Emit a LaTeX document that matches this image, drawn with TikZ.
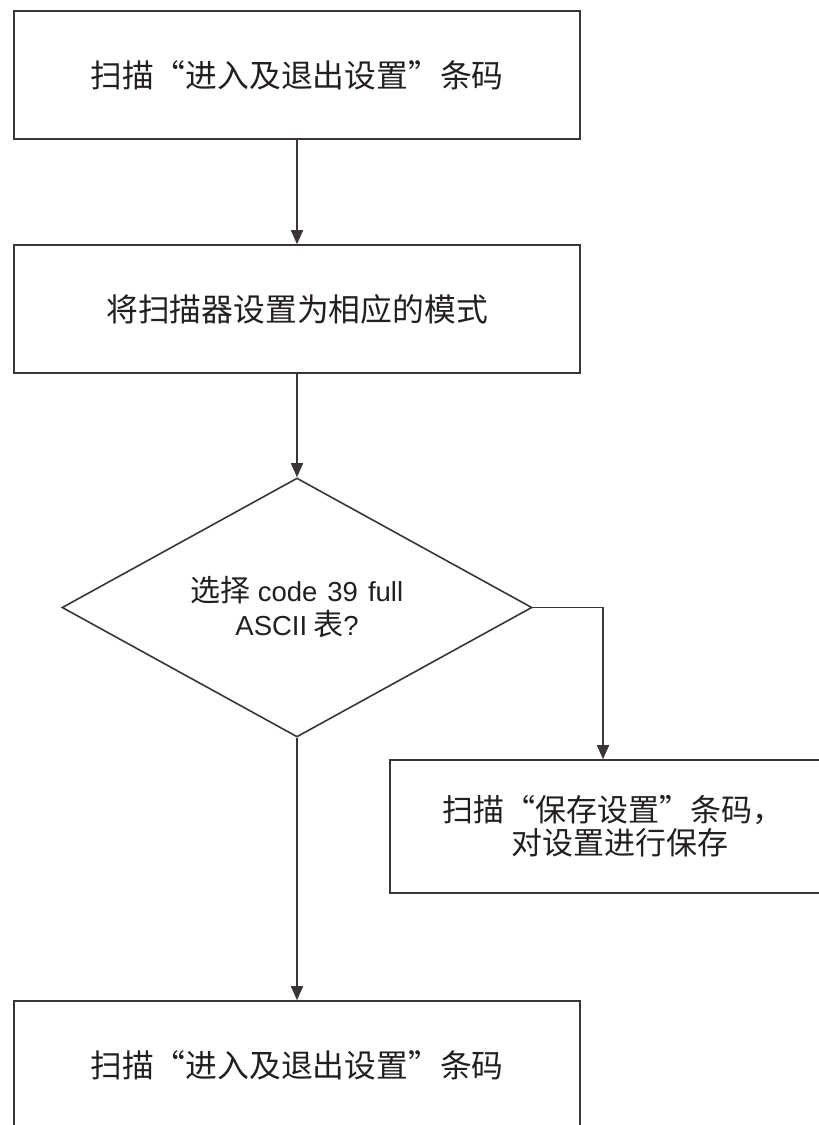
\documentclass[tikz,border=0pt]{standalone}
\usepackage{fontspec}
\setmainfont{Liberation Sans}
\newfontfamily\cjk{Noto Sans CJK SC}
\usetikzlibrary{arrows.meta,shapes.geometric}
\definecolor{linegray}{HTML}{3B3535}
\definecolor{textdark}{HTML}{231F20}

\begin{document}
\begin{tikzpicture}[x=1pt,y=-1pt,
  box/.style={draw=linegray, line width=1.6pt, minimum width=566pt,
    minimum height=128pt, inner sep=0pt, align=center, text=textdark,
    font=\cjk\fontsize{31.8}{34}\selectfont},
  decision/.style={shape=diamond, draw=linegray, line width=1.6pt,
    minimum width=470pt, minimum height=259pt, inner sep=0pt},
  decisiontext/.style={inner sep=0pt, align=center, text=textdark,
    font=\fontsize{27.5}{34}\selectfont},
  link/.style={draw=linegray, line width=1.6pt,
    -{Triangle[length=14pt,width=12pt]}},
]
\useasboundingbox (0,0) rectangle (819,1125);
\clip (0,0) rectangle (819,1125);

\node[box] (enter1) at (297,75) {扫描“进入及退出设置”条码};
\node[box] (mode) at (297,309) {将扫描器设置为相应的模式};
\node[decision] (ask) at (297,607.5) {};
\node[decisiontext] (asktext) at (ask.center)
  {{\cjk\fontsize{30}{34}\selectfont 选择}\hspace{7pt}code\hspace{10pt}39\hspace{10pt}full\\
   ASCII\hspace{6pt}{\cjk\fontsize{30}{34}\selectfont 表}?};
\node[box, minimum width=446pt, minimum height=133pt, font=\cjk\fontsize{31}{33}\selectfont]
  (save) at (613,826.5) {扫描“保存设置”条码，\\\hspace*{14pt}对设置进行保存};
\node[box] (enter2) at (297,1065) {扫描“进入及退出设置”条码};

\draw[link] (enter1) -- (mode);
\draw[link] (mode) -- (ask);
\draw[link] (ask.east) -| ([xshift=-10pt]save.north);
\draw[link] (ask.south) -- (enter2);
\end{tikzpicture}
\end{document}
